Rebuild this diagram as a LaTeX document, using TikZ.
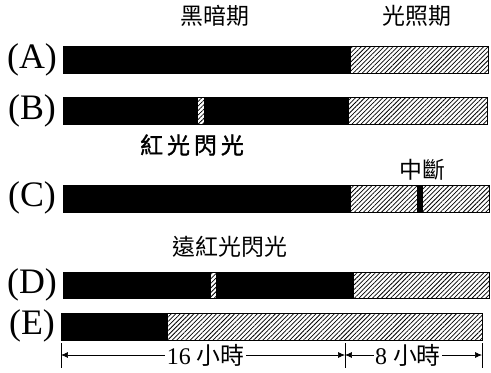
\documentclass[tikz,border=0pt]{standalone}
\usepackage{fontspec}
\setmainfont{Liberation Serif}
\newfontfamily\cjk{Noto Sans CJK TC}
\newfontfamily\cjkm[FakeBold=1.3]{Noto Sans CJK TC}
\usetikzlibrary{patterns.meta,arrows.meta}
\begin{document}
\begin{tikzpicture}[x=1bp,y=-1bp,
  dark/.style={fill=black,draw=black},
  lit/.style={draw=black,line width=0.8pt,pattern={Lines[angle=45,distance=3.2bp,line width=0.75bp]}},
  rowlab/.style={font=\fontsize{36}{36}\selectfont,inner sep=0pt},
  cjklab/.style={font=\cjk\fontsize{23}{23}\selectfont,inner sep=0pt},
  dimlab/.style={font=\fontsize{24}{24}\selectfont,fill=white,inner sep=1.5pt},
  dimline/.style={line width=0.7pt,{Latex[length=7pt,width=6pt]}-{Latex[length=7pt,width=6pt]}},
  tick/.style={line width=0.9pt}]
\useasboundingbox (0,0) rectangle (491,372);
% headings
\node[cjklab] (hdark) at (215,16) {黑暗期};
\node[cjklab] (hlight) at (417,16) {光照期};
% row labels
\node[rowlab] (la) at (32,60) {(A)};
\node[rowlab] (lb) at (32,111) {(B)};
\node[rowlab] (lc) at (32,198) {(C)};
\node[rowlab] (ld) at (32,285) {(D)};
\node[rowlab] (le) at (32,326) {(E)};
% (A)
\fill[dark] (63,46) rectangle (350,73);
\draw[lit] (350,46) rectangle (488,73);
% (B)
\fill[dark] (63,97) rectangle (197,124);
\draw[lit] (197,97) rectangle (204,124);
\fill[dark] (204,97) rectangle (348,124);
\draw[lit] (348,97) rectangle (487,124);
\node[cjklab,font=\cjkm\fontsize{23}{23}\selectfont] (redf) at (192,145) {紅\hspace{4bp}光\hspace{4bp}閃\hspace{4bp}光};
% (C)
\node[cjklab] (brk) at (422,170) {中斷};
\fill[dark] (63,185) rectangle (350,212);
\draw[lit] (350,185) rectangle (417,212);
\fill[dark] (417,185) rectangle (422,212);
\draw[lit] (422,185) rectangle (489,212);
% (D)
\node[cjklab] (farf) at (230,247) {遠紅光閃光};
\fill[dark] (63,272) rectangle (210,298);
\draw[lit] (210,272) rectangle (216,298);
\fill[dark] (216,272) rectangle (353,298);
\draw[lit] (353,272) rectangle (489,298);
% (E)
\fill[dark] (61,313) rectangle (167,340);
\draw[lit] (167,313) rectangle (482,340);
% dimension
\coordinate (t1) at (61,355);
\coordinate (t2) at (345,355);
\coordinate (t3) at (482,355);
\draw[tick] (61,343) -- (61,368);
\draw[tick] (345,343) -- (345,368);
\draw[tick] (482,343) -- (482,368);
\draw[dimline] (t1) -- (t2) node[dimlab,pos=0.51] (d16) {16 {\cjk 小時}};
\draw[dimline] (t2) -- (t3) node[dimlab,pos=0.46] (d8) {8 {\cjk 小時}};
\end{tikzpicture}
\end{document}
